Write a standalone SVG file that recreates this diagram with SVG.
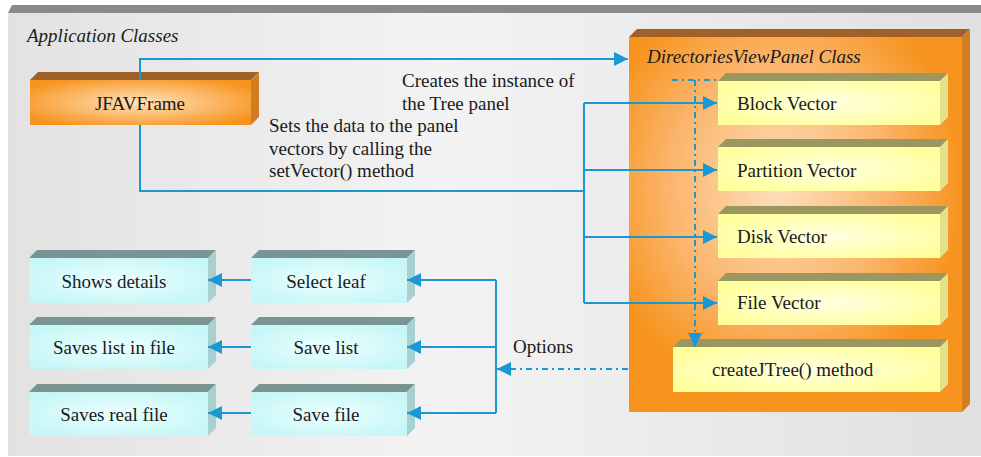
<svg xmlns="http://www.w3.org/2000/svg" width="981" height="457" viewBox="0 0 981 457" font-family="Liberation Serif, Times New Roman, serif" font-size="19">
  <defs>
    <linearGradient id="bgGrad" x1="0" y1="0" x2="1" y2="0">
      <stop offset="0" stop-color="#e2e2e2"/>
      <stop offset="0.45" stop-color="#f3f3f3"/>
      <stop offset="1" stop-color="#e0e0e0"/>
    </linearGradient>
    <radialGradient id="orangeFront" cx="0.5" cy="0.5" r="0.6">
      <stop offset="0" stop-color="#ffe2b8"/>
      <stop offset="0.55" stop-color="#fbb868"/>
      <stop offset="1" stop-color="#f7941f"/>
    </radialGradient>
    <radialGradient id="panelFront" cx="0.45" cy="0.4" r="0.55">
      <stop offset="0" stop-color="#fde0bd"/>
      <stop offset="0.6" stop-color="#fbb56c"/>
      <stop offset="1" stop-color="#f7941f"/>
    </radialGradient>
    <radialGradient id="yellowFront" cx="0.5" cy="0.5" r="0.6">
      <stop offset="0" stop-color="#ffffe2"/>
      <stop offset="1" stop-color="#ffff9c"/>
    </radialGradient>
    <radialGradient id="cyanFront" cx="0.5" cy="0.5" r="0.6">
      <stop offset="0" stop-color="#ecffff"/>
      <stop offset="1" stop-color="#c6f6f6"/>
    </radialGradient>
    <marker id="arrow" markerUnits="userSpaceOnUse" markerWidth="15" markerHeight="14" refX="14" refY="7" orient="auto">
      <path d="M0,0 L14,7 L0,14 z" fill="#1a98d4"/>
    </marker>
  </defs>
  <style>
    text { fill: #1a1a1a; }
    .title { font-style: italic; }
    .mid { text-anchor: middle; }
    .orange-top { fill: #a0602a; }
    .orange-side { fill: #d47c20; }
    .orange-front { fill: url(#orangeFront); }
    .panel-front { fill: url(#panelFront); }
    .yellow-top { fill: #9a9860; }
    .yellow-side { fill: #e2e28c; }
    .yellow-front { fill: url(#yellowFront); }
    .cyan-top { fill: #7a9494; }
    .cyan-side { fill: #a9d0d0; }
    .cyan-front { fill: url(#cyanFront); }
    .conn { fill: none; stroke: #1a98d4; stroke-width: 2; }
    .dashdot { stroke-dasharray: 6 4 2 4; }
  </style>

  <!-- background panel -->
  <rect x="0" y="0" width="981" height="457" fill="#ffffff"/>
  <rect x="8" y="13" width="973" height="443" fill="url(#bgGrad)"/>
  <polygon points="8,13 12,5 981,5 981,13" fill="#8a8a8a"/>
  <text class="title" x="27" y="42">Application Classes</text>

  <!-- DirectoriesViewPanel container -->
  <g id="directories-view-panel">
    <polygon class="orange-top" points="629,37 637,29 970,29 962,37"/>
    <polygon class="orange-side" points="962,37 970,29 970,404 962,412"/>
    <rect class="panel-front" x="629" y="37" width="333" height="375"/>
    <text class="title" x="647" y="63">DirectoriesViewPanel Class</text>
  </g>

  <g id="jfavframe">
    <polygon class="orange-top" points="30,80 38,72 259,72 251,80"/>
    <polygon class="orange-side" points="251,80 259,72 259,117 251,125"/>
    <rect class="orange-front" x="30" y="80" width="221" height="45"/>
    <text class="mid" x="140" y="110">JFAVFrame</text>
  </g>

  <g id="block-vector">
    <polygon class="yellow-top" points="718,81 726,73 948,73 940,81"/>
    <polygon class="yellow-side" points="940,81 948,73 948,117 940,125"/>
    <rect class="yellow-front" x="718" y="81" width="222" height="44"/>
    <text x="737" y="110">Block Vector</text>
  </g>
  <g id="partition-vector">
    <polygon class="yellow-top" points="718,147 726,139 948,139 940,147"/>
    <polygon class="yellow-side" points="940,147 948,139 948,183 940,191"/>
    <rect class="yellow-front" x="718" y="147" width="222" height="44"/>
    <text x="737" y="177">Partition Vector</text>
  </g>
  <g id="disk-vector">
    <polygon class="yellow-top" points="718,214 726,206 948,206 940,214"/>
    <polygon class="yellow-side" points="940,214 948,206 948,250 940,258"/>
    <rect class="yellow-front" x="718" y="214" width="222" height="44"/>
    <text x="737" y="243">Disk Vector</text>
  </g>
  <g id="file-vector">
    <polygon class="yellow-top" points="718,281 726,273 948,273 940,281"/>
    <polygon class="yellow-side" points="940,281 948,273 948,317 940,325"/>
    <rect class="yellow-front" x="718" y="281" width="222" height="44"/>
    <text x="737" y="309">File Vector</text>
  </g>
  <g id="create-jtree">
    <polygon class="yellow-top" points="673,347 681,339 948,339 940,347"/>
    <polygon class="yellow-side" points="940,347 948,339 948,384 940,392"/>
    <rect class="yellow-front" x="673" y="347" width="267" height="45"/>
    <text x="712" y="376">createJTree() method</text>
  </g>

  <g id="select-leaf">
    <polygon class="cyan-top" points="251,258 259,250 415,250 407,258"/>
    <polygon class="cyan-side" points="407,258 415,250 415,295 407,303"/>
    <rect class="cyan-front" x="251" y="258" width="156" height="45"/>
    <text class="mid" x="326" y="288">Select leaf</text>
  </g>
  <g id="save-list">
    <polygon class="cyan-top" points="251,325 259,317 415,317 407,325"/>
    <polygon class="cyan-side" points="407,325 415,317 415,361 407,369"/>
    <rect class="cyan-front" x="251" y="325" width="156" height="44"/>
    <text class="mid" x="326" y="354">Save list</text>
  </g>
  <g id="save-file">
    <polygon class="cyan-top" points="251,392 259,384 415,384 407,392"/>
    <polygon class="cyan-side" points="407,392 415,384 415,428 407,436"/>
    <rect class="cyan-front" x="251" y="392" width="156" height="44"/>
    <text class="mid" x="326" y="421">Save file</text>
  </g>

  <g id="shows-details">
    <polygon class="cyan-top" points="29,258 37,250 216,250 208,258"/>
    <polygon class="cyan-side" points="208,258 216,250 216,295 208,303"/>
    <rect class="cyan-front" x="29" y="258" width="179" height="45"/>
    <text class="mid" x="114" y="288">Shows details</text>
  </g>
  <g id="saves-list-in-file">
    <polygon class="cyan-top" points="29,325 37,317 216,317 208,325"/>
    <polygon class="cyan-side" points="208,325 216,317 216,361 208,369"/>
    <rect class="cyan-front" x="29" y="325" width="179" height="44"/>
    <text class="mid" x="114" y="354">Saves list in file</text>
  </g>
  <g id="saves-real-file">
    <polygon class="cyan-top" points="29,392 37,384 216,384 208,392"/>
    <polygon class="cyan-side" points="208,392 216,384 216,428 208,436"/>
    <rect class="cyan-front" x="29" y="392" width="179" height="44"/>
    <text class="mid" x="114" y="421">Saves real file</text>
  </g>

  <!-- connectors -->
  <g id="connectors">
    <path class="conn" d="M140,80 V59 H628" marker-end="url(#arrow)"/>
    <path class="conn" d="M140,125 V191 H584"/>
    <path class="conn" d="M584,103 V303"/>
    <path class="conn" d="M584,103 H717" marker-end="url(#arrow)"/>
    <path class="conn" d="M584,170 H717" marker-end="url(#arrow)"/>
    <path class="conn" d="M584,237 H717" marker-end="url(#arrow)"/>
    <path class="conn" d="M584,303 H717" marker-end="url(#arrow)"/>

    <path class="conn dashdot" d="M672,80 H717"/>
    <path class="conn dashdot" d="M695,80 V347" marker-end="url(#arrow)"/>
    <path class="conn dashdot" d="M628,369 H497" marker-end="url(#arrow)"/>

    <path class="conn" d="M496,280 V413"/>
    <path class="conn" d="M496,280 H407" marker-end="url(#arrow)"/>
    <path class="conn" d="M496,347 H407" marker-end="url(#arrow)"/>
    <path class="conn" d="M496,413 H407" marker-end="url(#arrow)"/>

    <path class="conn" d="M251,280 H208" marker-end="url(#arrow)"/>
    <path class="conn" d="M251,347 H208" marker-end="url(#arrow)"/>
    <path class="conn" d="M251,413 H208" marker-end="url(#arrow)"/>
  </g>

  <!-- connector labels -->
  <text x="402" y="87">Creates the instance of</text>
  <text x="402" y="110">the Tree panel</text>
  <text x="269" y="132">Sets the data to the panel</text>
  <text x="269" y="155">vectors by calling the</text>
  <text x="269" y="177">setVector() method</text>
  <text x="513" y="353">Options</text>
</svg>
